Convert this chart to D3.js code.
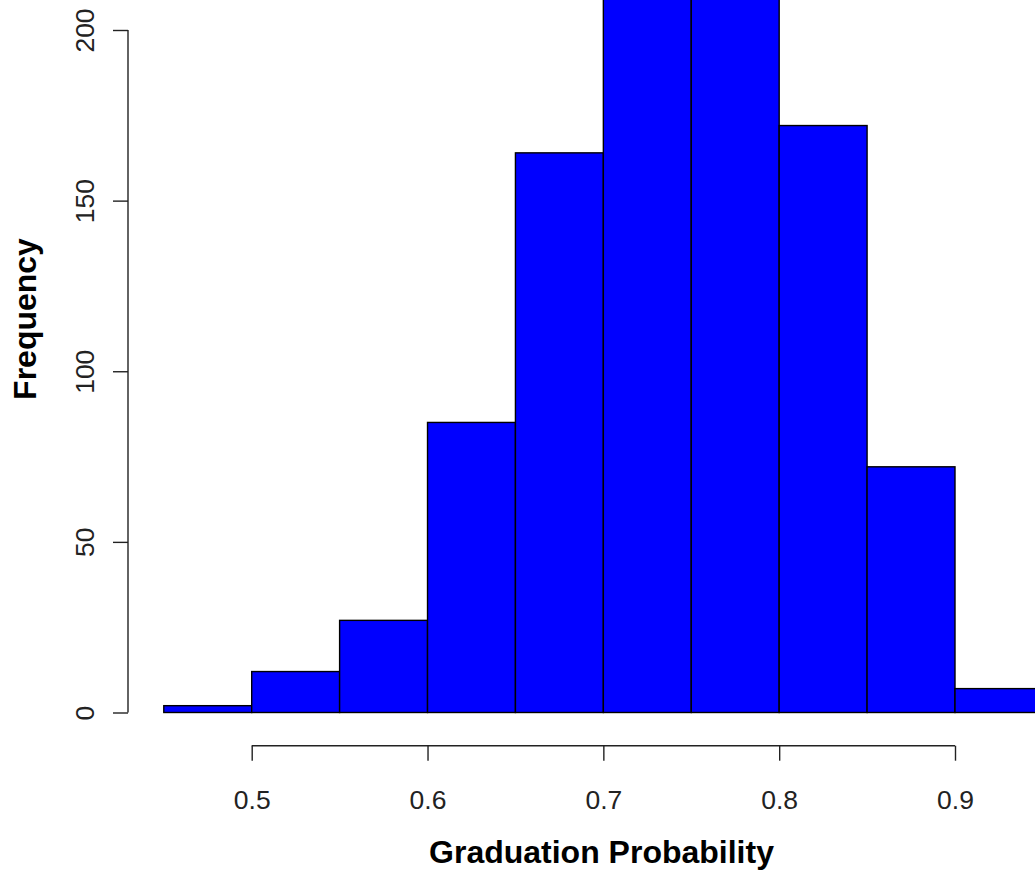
<!DOCTYPE html>
<html>
<head>
<meta charset="utf-8">
<script src="https://cdn.jsdelivr.net/npm/d3@7"></script>
<style>
  html, body { margin: 0; padding: 0; background: #ffffff; }
  svg { display: block; }
</style>
</head>
<body>
<script>
// Histogram of graduation probabilities (bin width 0.05)
const binStarts = [0.45, 0.50, 0.55, 0.60, 0.65, 0.70, 0.75, 0.80, 0.85, 0.90];
const binWidth = 0.05;
const counts = [2, 12, 27, 85, 164, 226, 233, 172, 72, 7];
const xTicks = [0.5, 0.6, 0.7, 0.8, 0.9];
const yTicks = [0, 50, 100, 150, 200];
const xLabel = "Graduation Probability";
const yLabel = "Frequency";

const W = 1035, H = 880;
const svg = d3.select("body").append("svg")
  .attr("width", W).attr("height", H);

const x = d3.scaleLinear().domain([0.5, 0.9]).range([251.7, 955]);
const y = d3.scaleLinear().domain([0, 200]).range([712.5, 30]);

const font = "'Liberation Sans', Arial, Helvetica, sans-serif";

// bars
svg.append("g").selectAll("rect")
  .data(binStarts.map((s, i) => ({ x0: s, x1: s + binWidth, n: counts[i] })))
  .join("rect")
  .attr("x", d => x(d.x0))
  .attr("width", d => x(d.x1) - x(d.x0))
  .attr("y", d => y(d.n))
  .attr("height", d => y(0) - y(d.n))
  .attr("fill", "#0000ff")
  .attr("stroke", "#000000")
  .attr("stroke-width", 1.4);

// x axis
const gx = svg.append("g")
  .attr("transform", "translate(0,745.7)")
  .call(d3.axisBottom(x).tickValues(xTicks).tickSize(15).tickSizeOuter(0)
    .tickFormat(d3.format(".1f")));
gx.select(".domain").attr("stroke", "#222").attr("stroke-width", 1.4)
  .attr("d", `M${x(xTicks[0])},0H${x(xTicks[xTicks.length - 1])}`);
gx.selectAll(".tick line").attr("stroke", "#222").attr("stroke-width", 1.4);
gx.selectAll(".tick text")
  .attr("y", 63).attr("dy", null)
  .attr("font-family", font).attr("font-size", 26.5)
  .attr("fill", "#222");

// y axis with rotated tick labels
const gy = svg.append("g")
  .attr("transform", "translate(128,0)")
  .call(d3.axisLeft(y).tickValues(yTicks).tickSize(15).tickSizeOuter(0));
gy.select(".domain").attr("stroke", "#222").attr("stroke-width", 1.4)
  .attr("d", `M0,${y(yTicks[0])}V${y(yTicks[yTicks.length - 1])}`);
gy.selectAll(".tick line").attr("stroke", "#222").attr("stroke-width", 1.4);
gy.selectAll(".tick text")
  .attr("x", 0).attr("y", -34.5).attr("dy", null)
  .attr("transform", "rotate(-90)")
  .attr("text-anchor", "middle")
  .attr("font-family", font).attr("font-size", 26.5)
  .attr("fill", "#222");

// axis titles
svg.append("text")
  .attr("x", 601.5).attr("y", 862.5)
  .attr("text-anchor", "middle")
  .attr("font-family", font).attr("font-weight", "bold")
  .attr("font-size", 32).attr("fill", "#000")
  .text(xLabel);

svg.append("text")
  .attr("transform", "translate(36,319) rotate(-90)")
  .attr("text-anchor", "middle")
  .attr("font-family", font).attr("font-weight", "bold")
  .attr("font-size", 32).attr("fill", "#000")
  .text(yLabel);
</script>
</body>
</html>
